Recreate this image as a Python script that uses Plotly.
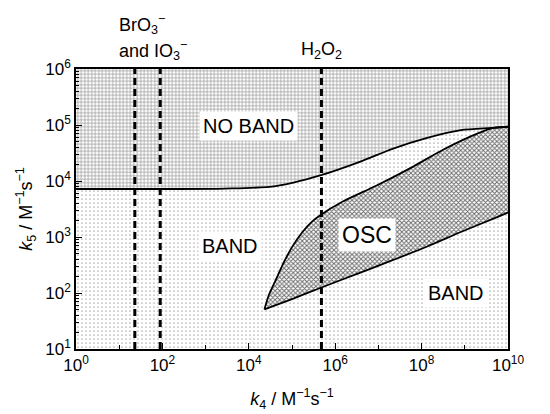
import math
import plotly.graph_objects as go

# ---- data (k4, k5 in M^-1 s^-1) ----
noband_k4 = [1, 100, 2.8e3, 4.2e4, 4.5e5, 3.7e6, 2.2e7, 1.35e8, 8.1e8, 3.5e9, 4.6e9, 1e10]
noband_k5 = [7200, 7200, 7300, 8100, 1.26e4, 2.2e4, 3.8e4, 5.9e4, 8.1e4, 8.8e4, 8.9e4, 9.3e4]

osc_upper_k4 = [2.3e4, 2.9e4, 4.2e4, 6.5e4, 1.0e5, 1.75e5, 2.95e5, 4.5e5, 1.5e6, 9.1e6, 5.5e7, 3.3e8, 2.0e9, 4.6e9, 1e10]
osc_upper_k5 = [51, 91, 170, 355, 660, 1230, 1900, 2450, 4300, 8300, 1.7e4, 3.7e4, 7.1e4, 8.9e4, 9.3e4]

osc_lower_k4 = [2.3e4, 1.0e5, 4.5e5, 3.7e6, 2.2e7, 1.35e8, 8.1e8, 5.8e9, 1e10]
osc_lower_k5 = [51, 78, 123, 229, 389, 676, 1230, 2290, 2750]

dashed_k4 = [23, 89, 4.8e5]
k4_range = [1, 1e10]
k5_range = [10, 1e6]

x_tickvals = [1, 1e2, 1e4, 1e6, 1e8, 1e10]
x_ticktext = ["10<sup>0</sup>", "10<sup>2</sup>", "10<sup>4</sup>", "10<sup>6</sup>", "10<sup>8</sup>", "10<sup>10</sup>"]
x_minor = [10, 1e3, 1e5, 1e7, 1e9]
y_tickvals = [10, 1e2, 1e3, 1e4, 1e5, 1e6]
y_ticktext = ["10<sup>1</sup>", "10<sup>2</sup>", "10<sup>3</sup>", "10<sup>4</sup>", "10<sup>5</sup>", "10<sup>6</sup>"]
y_minor = [m * d for d in [10, 1e2, 1e3, 1e4, 1e5] for m in range(2, 10)]

FONT = "Liberation Sans, Arial, Helvetica, sans-serif"
L = math.log10

fig = go.Figure()

# BAND background (dots) covering the whole plot
fig.add_trace(go.Scatter(
    x=[k4_range[0], k4_range[1], k4_range[1], k4_range[0], k4_range[0]],
    y=[k5_range[0], k5_range[0], k5_range[1], k5_range[1], k5_range[0]],
    mode="lines", line=dict(width=0), fill="toself", fillcolor="white",
    fillpattern=dict(shape=".", size=4, solidity=0.07, fgcolor="#555555", bgcolor="white", fillmode="replace"),
    hoverinfo="skip", showlegend=False))

# NO BAND region (grid)
fig.add_trace(go.Scatter(
    x=noband_k4 + [k4_range[1], k4_range[0]],
    y=noband_k5 + [k5_range[1], k5_range[1]],
    mode="lines", line=dict(width=0), fill="toself", fillcolor="white",
    fillpattern=dict(shape="+", size=3.5, solidity=0.42, fgcolor="#a4a4a4", bgcolor="white", fillmode="replace"),
    hoverinfo="skip", showlegend=False))

# OSC region (cross hatch)
fig.add_trace(go.Scatter(
    x=osc_upper_k4 + osc_lower_k4[::-1],
    y=osc_upper_k5 + osc_lower_k5[::-1],
    mode="lines", line=dict(width=0), fill="toself", fillcolor="white",
    fillpattern=dict(shape="x", size=3.2, solidity=0.5, fgcolor="#6a6a6a", bgcolor="white", fillmode="replace"),
    hoverinfo="skip", showlegend=False))

# boundary curves
for xs, ys in [(noband_k4, noband_k5), (osc_upper_k4, osc_upper_k5), (osc_lower_k4, osc_lower_k5)]:
    fig.add_trace(go.Scatter(x=xs, y=ys, mode="lines",
                             line=dict(color="black", width=1.8, shape="spline", smoothing=0.8),
                             hoverinfo="skip", showlegend=False))

# dashed vertical lines
for xv in dashed_k4:
    fig.add_trace(go.Scatter(x=[xv, xv], y=k5_range, mode="lines",
                             line=dict(color="black", width=3, dash="7px,4px"),
                             hoverinfo="skip", showlegend=False))

ann_font = dict(family=FONT, size=20, color="black")
top_font = dict(family=FONT, size=18, color="black")
annotations = [
    dict(x=4.0, y=4.99, text="NO BAND", xref="x", yref="y", showarrow=False,
         bgcolor="white", borderpad=3, font=ann_font),
    dict(x=3.56, y=2.84, text="BAND", xref="x", yref="y", showarrow=False,
         bgcolor="white", borderpad=3, font=ann_font),
    dict(x=8.8, y=2.0, text="BAND", xref="x", yref="y", showarrow=False,
         bgcolor="white", borderpad=3, font=ann_font),
    dict(x=6.74, y=3.04, text="OSC", xref="x", yref="y", showarrow=False,
         bgcolor="white", borderpad=3, font=dict(family=FONT, size=23, color="black")),
    dict(x=0.94, y=1.158, text="BrO<sub>3</sub><sup>−</sup>",
         xref="x", yref="paper", showarrow=False, xanchor="left", yanchor="middle",
         align="left", font=top_font),
    dict(x=0.94, y=1.065, text="and IO<sub>3</sub><sup>−</sup>",
         xref="x", yref="paper", showarrow=False, xanchor="left", yanchor="middle",
         align="left", font=top_font),
    dict(x=L(dashed_k4[2]), y=1.065, text="H<sub>2</sub>O<sub>2</sub>",
         xref="x", yref="paper", showarrow=False, xanchor="center", yanchor="middle",
         font=top_font),
]

axis_common = dict(
    type="log", tickmode="array",
    ticks="inside", ticklen=6, tickwidth=1, tickcolor="black",
    showline=True, linecolor="black", linewidth=1.5, mirror=True,
    showgrid=False, zeroline=False, automargin=False,
    tickfont=dict(family=FONT, size=17, color="black"),
)

fig.update_layout(
    width=550, height=414,
    margin=dict(l=68, r=50, t=61, b=73),
    paper_bgcolor="white", plot_bgcolor="white",
    font=dict(family=FONT, size=18, color="black"),
    annotations=annotations,
    xaxis=dict(**axis_common, range=[L(k4_range[0]), L(k4_range[1])],
               tickvals=x_tickvals, ticktext=x_ticktext,
               minor=dict(tickmode="array", tickvals=x_minor, ticks="inside", ticklen=4, tickcolor="black", showgrid=False),
               title=dict(text="<i>k</i><sub>4</sub> / M<sup>−1</sup>s<sup>−1</sup>", standoff=18,
                          font=dict(family=FONT, size=18))),
    yaxis=dict(**axis_common, range=[L(k5_range[0]), L(k5_range[1])],
               tickvals=y_tickvals, ticktext=y_ticktext,
               minor=dict(tickmode="array", tickvals=y_minor, ticks="inside", ticklen=3, tickcolor="black", showgrid=False),
               title=dict(text="<i>k</i><sub>5</sub> / M<sup>−1</sup>s<sup>−1</sup>", standoff=8,
                          font=dict(family=FONT, size=18))),
)

fig.write_html("out.html")
